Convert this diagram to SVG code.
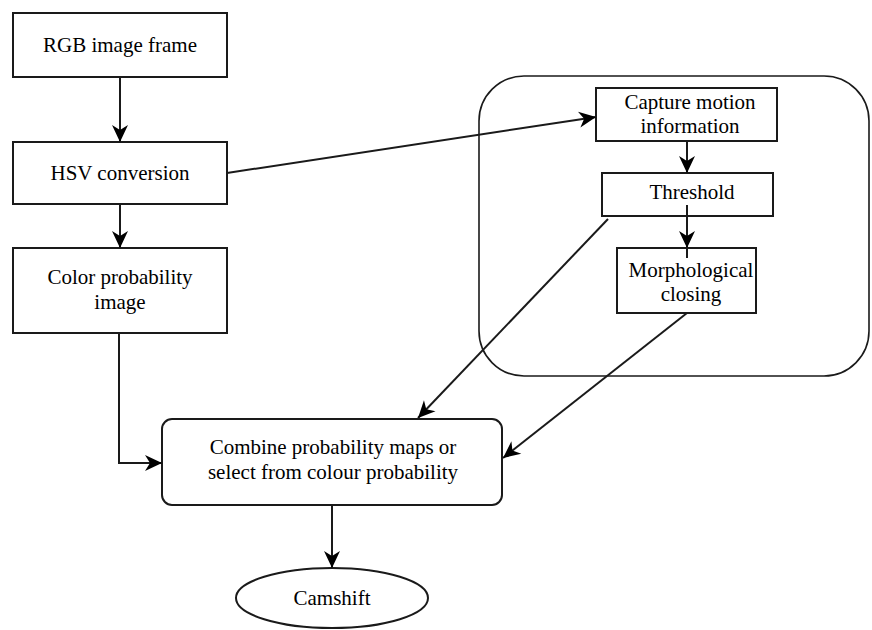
<svg xmlns="http://www.w3.org/2000/svg" width="872" height="630" viewBox="0 0 872 630">
  <style>
    .box { fill: #ffffff; stroke: #1a1a1a; stroke-width: 2; }
    .grp { fill: none; stroke: #1a1a1a; stroke-width: 1.6; }
    .edge { fill: none; stroke: #1a1a1a; stroke-width: 2; }
    .lbl { font-family: "Liberation Serif", "Times New Roman", serif; font-size: 21px; fill: #000000; text-anchor: middle; }
  </style>
  <defs>
    <marker id="arrow" markerUnits="userSpaceOnUse" markerWidth="22" markerHeight="22" viewBox="0 0 22 22" refX="19" refY="11" orient="auto">
      <path d="M2,3 L19,11 L2,19 L7,11 Z" fill="#000000"/>
    </marker>
  </defs>
  <rect width="872" height="630" fill="#ffffff"/>

  <!-- motion branch container -->
  <g id="motion-group">
    <rect class="grp" x="479" y="76" width="390" height="300" rx="45" ry="45"/>
  </g>

  <g id="rgb-frame">
    <rect class="box" x="13" y="13" width="214" height="64"/>
    <text class="lbl" x="120" y="52">RGB image frame</text>
  </g>

  <g id="hsv-conversion">
    <rect class="box" x="13" y="142" width="214" height="62"/>
    <text class="lbl" x="120" y="180">HSV conversion</text>
  </g>

  <g id="color-probability">
    <rect class="box" x="13" y="248" width="214" height="85"/>
    <text class="lbl" x="120" y="284">Color probability</text>
    <text class="lbl" x="120" y="309">image</text>
  </g>

  <g id="capture-motion">
    <rect class="box" x="596" y="88" width="181" height="53"/>
    <text class="lbl" x="690" y="109">Capture motion</text>
    <text class="lbl" x="690" y="133">information</text>
  </g>

  <g id="threshold">
    <rect class="box" x="602" y="173" width="171" height="43"/>
    <text class="lbl" x="692" y="199">Threshold</text>
  </g>

  <g id="morphological-closing">
    <rect class="box" x="617" y="248" width="139" height="65"/>
    <text class="lbl" x="691" y="277">Morphological</text>
    <text class="lbl" x="691" y="301">closing</text>
  </g>

  <g id="combine">
    <rect class="box" x="162" y="419" width="340" height="86" rx="10" ry="10"/>
    <text class="lbl" x="333" y="454">Combine probability maps or</text>
    <text class="lbl" x="333" y="479">select from colour probability</text>
  </g>

  <g id="camshift">
    <ellipse class="box" cx="332" cy="598" rx="96" ry="30"/>
    <text class="lbl" x="332" y="605">Camshift</text>
  </g>

  <g id="connectors">
    <line class="edge" x1="120" y1="77" x2="120" y2="142" marker-end="url(#arrow)"/>
    <line class="edge" x1="120" y1="204" x2="120" y2="248" marker-end="url(#arrow)"/>
    <polyline class="edge" points="119,333 119,463 162,463" marker-end="url(#arrow)"/>
    <line class="edge" x1="227" y1="173" x2="596" y2="117" marker-end="url(#arrow)"/>
    <line class="edge" x1="687" y1="141" x2="687" y2="173" marker-end="url(#arrow)"/>
    <line class="edge" x1="687" y1="248" x2="687" y2="258"/>
    <line class="edge" x1="687" y1="205" x2="687" y2="248" marker-end="url(#arrow)"/>
    <line class="edge" x1="608" y1="219" x2="418" y2="418" marker-end="url(#arrow)"/>
    <line class="edge" x1="687" y1="313" x2="503" y2="458" marker-end="url(#arrow)"/>
    <line class="edge" x1="332" y1="505" x2="332" y2="568" marker-end="url(#arrow)"/>
  </g>
</svg>
